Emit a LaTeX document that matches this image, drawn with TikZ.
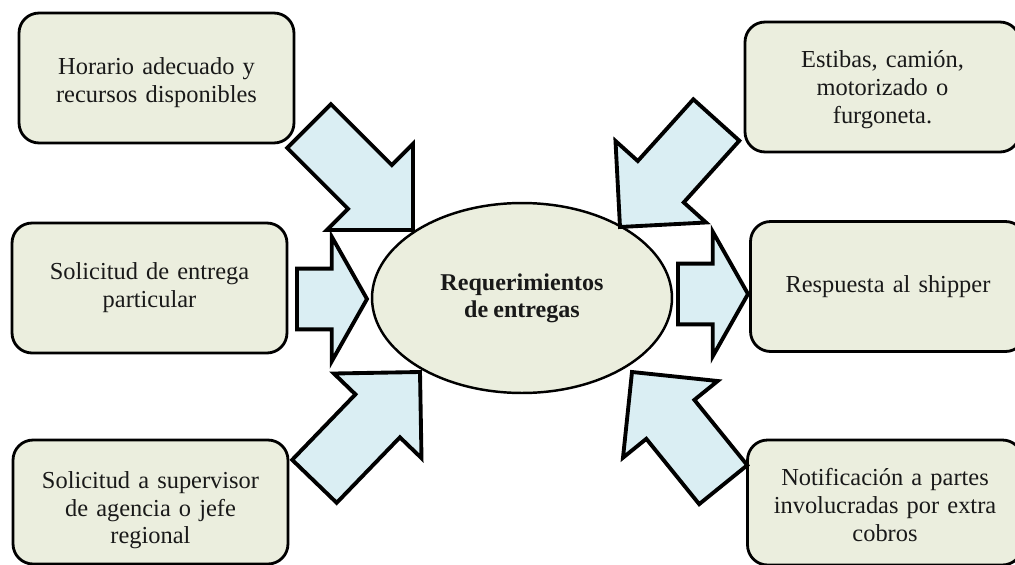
\documentclass[tikz,border=0pt]{standalone}
\usepackage{fontspec}
\setmainfont[WordSpace=0.85]{Liberation Serif}
\usepackage{xcolor}
\usepackage{tikz}
\usetikzlibrary{shapes.geometric,shapes.arrows}
\definecolor{boxfill}{RGB}{235,238,222}
\definecolor{arrowfill}{RGB}{218,238,243}
\newcommand{\lift}[1]{\rule{0pt}{#1}}

\begin{document}
\begin{tikzpicture}[x=0.02cm,y=-0.02cm]
	 \tikzstyle{box}=[rectangle,rounded corners=0.4cm,draw,line width=1.6pt,fill=boxfill,minimum width=5.5cm,minimum height=2.6cm,text width=4.8cm,align=center,text=black!90,font=\fontsize{13.9}{15.9}\selectfont]
	 \tikzstyle{hub}=[ellipse,draw,line width=1.4pt,fill=boxfill,minimum width=6cm,minimum height=3.8cm,inner sep=0pt,align=center,text=black!90,font=\fontsize{13.7}{15.5}\selectfont\bfseries]
	 \tikzstyle{bigarrow}=[single arrow,draw,line width=2.2pt,fill=arrowfill,inner xsep=0pt,inner ysep=0.58cm,outer sep=0pt,single arrow head extend=0.6cm,single arrow tip angle=90,minimum height=2.94cm,anchor=tip]
	 \tikzstyle{flatarrow}=[bigarrow,inner ysep=0.57cm,single arrow head extend=0.64cm,single arrow tip angle=121,minimum height=1.4cm]
	 \useasboundingbox (0,0) rectangle (1015,565);
	 % left column
	 \node[box] (b1) at (156.5,78) {\lift{15pt}Horario adecuado y\\recursos disponibles};
	 \node[box] (b2) at (149.5,288) {Solicitud de entrega\\particular};
	 \node[box,minimum height=2.48cm] (b3) at (150.5,502) {\lift{19pt}Solicitud a supervisor\\de agencia o jefe\\regional};
	 % right column
	 \node[box] (b4) at (882.5,87) {\lift{12.5pt}Estibas, camión,\\motorizado o\\furgoneta.};
	 \node[box] (b5) at (888,286.5) {Respuesta al shipper};
	 \node[box,minimum height=2.5cm] (b6) at (885,502.5) {\lift{13pt}Notificación a partes\\involucradas por extra\\cobros};
	 % center
	 \node[hub] (req) at (522,298) {Requerimientos\\de entregas};
	 % arrows
	 \node[bigarrow,rotate=-45] (a1) at (413,230) {};
	 \node[bigarrow,rotate=-132,minimum height=2.88cm] (a2) at (620,227) {};
	 \node[flatarrow] (a3) at (367,299) {};
	 \node[flatarrow] (a4) at (748,294) {};
	 \node[bigarrow,rotate=46,minimum height=3.04cm] (a5) at (420,372) {};
	 \node[bigarrow,rotate=129,minimum height=2.9cm] (a6) at (632,372) {};
 \end{tikzpicture}
\end{document}
